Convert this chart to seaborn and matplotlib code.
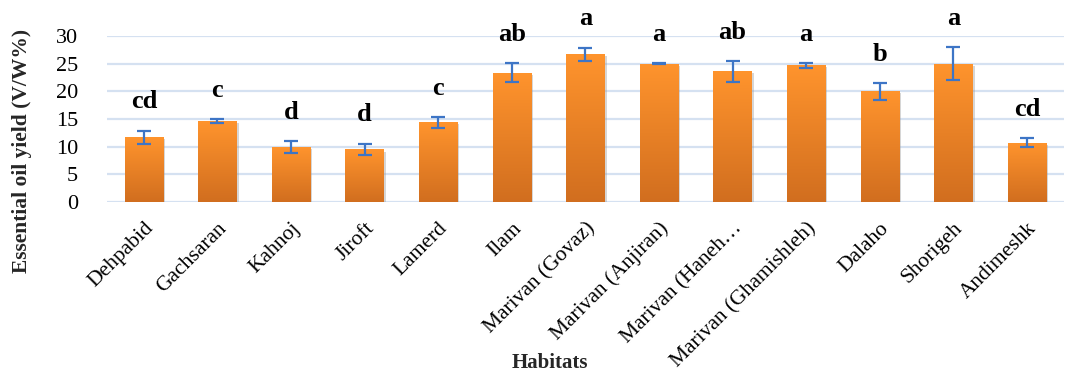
import numpy as np
import pandas as pd
import matplotlib
matplotlib.use("Agg")
import matplotlib.pyplot as plt
import matplotlib.patheffects as pe
from matplotlib.colors import LinearSegmentedColormap
import seaborn as sns

habitats = ["Dehpabid", "Gachsaran", "Kahnoj", "Jiroft", "Lamerd", "Ilam",
            "Marivan (Govaz)", "Marivan (Anjiran)", "Marivan (Haneh\u2026",
            "Marivan (Ghamishleh)", "Dalaho", "Shorigeh", "Andimeshk"]
yield_mean = [11.7, 14.6, 9.9, 9.5, 14.4, 23.4, 26.7, 25.0, 23.6, 24.7, 20.0, 25.0, 10.7]
yield_err = [1.2, 0.35, 1.05, 1.05, 0.95, 1.7, 1.2, 0.1, 1.85, 0.4, 1.5, 2.95, 0.85]
groups = ["cd", "c", "d", "d", "c", "ab", "a", "a", "ab", "a", "b", "a", "cd"]

df = pd.DataFrame({"habitat": habitats, "yield": yield_mean})

sns.set_theme(style="white")
plt.rcParams["font.family"] = ["Liberation Serif", "DejaVu Serif"]

fig = plt.figure(figsize=(10.8, 3.71), dpi=100)
ax = fig.add_axes([0.0991, 0.4555, 0.8859, 0.4475])

sns.barplot(data=df, x="habitat", y="yield", color="#F28A2A", width=0.52,
            errorbar=None, ax=ax, zorder=3)

# vertical orange gradient inside each bar, with a soft drop shadow
grad_cmap = LinearSegmentedColormap.from_list("bar_grad", ["#D16E1F", "#FF942D"])
grad = np.linspace(0, 1, 256).reshape(-1, 1)
for patch in ax.patches:
    patch.set_edgecolor("none")
    patch.set_path_effects([pe.SimplePatchShadow(offset=(1.5, -1.5), shadow_rgbFace="#9a9a9a",
                                                 alpha=0.4), pe.Normal()])
    x0, y0 = patch.get_x(), patch.get_y()
    w, h = patch.get_width(), patch.get_height()
    im = ax.imshow(grad, cmap=grad_cmap, origin="lower", aspect="auto",
                   extent=(x0, x0 + w, y0, y0 + h), zorder=3.5)
    im.set_clip_path(patch)

xs = np.arange(len(habitats))
ax.errorbar(xs, yield_mean, yerr=yield_err, fmt="none", ecolor="#3D75C6",
            elinewidth=1.6, capsize=5, capthick=1.6, zorder=5)

for x, m, e, g in zip(xs, yield_mean, yield_err, groups):
    ax.text(x, m + e + 4.0, g, ha="center", va="baseline", fontsize=19,
            fontweight="bold", color="black", zorder=6)

ax.set_ylim(0, 30)
ax.set_xlim(-0.5, len(habitats) - 0.5)
ax.set_yticks(range(0, 31, 5))
ax.yaxis.grid(True, color="#D5E1F1", linewidth=1.6, zorder=0)
ax.set_axisbelow(True)
for side in ["top", "right", "left", "bottom"]:
    ax.spines[side].set_visible(False)
ax.tick_params(axis="y", length=0, labelsize=16, pad=21, colors="black")
ax.tick_params(axis="x", length=0, labelsize=15.5, pad=12, colors="black")
ax.set_xticks(xs)
ax.set_xticklabels(habitats, rotation=45, ha="right", rotation_mode="anchor")
ax.set_xlabel("")
ax.set_ylabel("")

fig.text(0.0205, 0.592, "Essential oil yield (V/W%)", rotation=90, ha="center", va="center",
         fontsize=15.5, fontweight="bold")
fig.text(0.509, 0.022, "Habitats", ha="center", va="center", fontsize=15, fontweight="bold")

fig.savefig("out.png", dpi=100)
